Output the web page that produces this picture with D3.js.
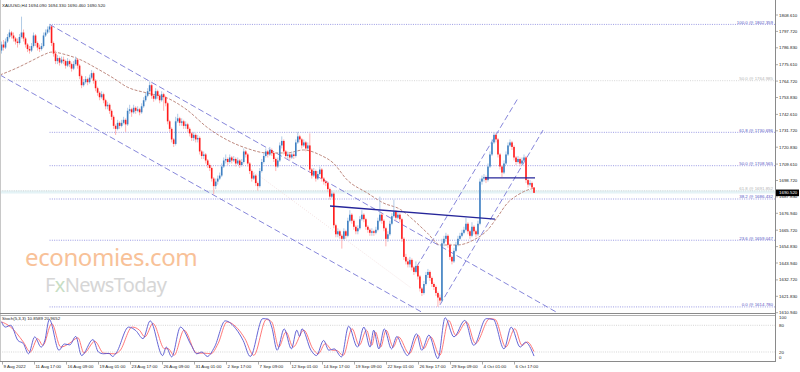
<!DOCTYPE html>
<html>
<head>
<meta charset="utf-8">
<script src="https://cdnjs.cloudflare.com/ajax/libs/d3/7.8.5/d3.min.js"></script>
<style>
body { margin: 0; background: #fff; }
svg { display: block; font-family: "Liberation Sans", Arial, sans-serif; }
</style>
</head>
<body>
<svg width="800" height="372"></svg>
<script>
// XAUUSD H4 candles, 9 Aug 2022 01:00 onwards (open of a bar = close of the previous one)
var firstOpen = 1785;
var closes = [1789,1787,1791,1794,1797,1795,1793,1791,1790,1794,1797,1793,1789,1786,1785,1788,1795,1790,1787,1786,
  1788,1795,1797,1799,1801,1790,1783,1778,1780,1777,1779,1778,1775,1778,1776,1773,1776,1779,1775,1768,
  1762,1764,1766,1764,1767,1770,1765,1760,1757,1754,1756,1752,1748,1749,1745,1741,1735,1733,1737,1735,
  1737,1739,1736,1745,1746,1744,1747,1745,1746,1744,1748,1752,1755,1758,1762,1755,1753,1758,1755,1752,
  1756,1754,1750,1738,1733,1726,1723,1738,1740,1737,1738,1735,1736,1733,1730,1727,1729,1726,1727,1718,
  1715,1716,1712,1709,1707,1700,1695,1698,1700,1702,1708,1712,1713,1711,1714,1712,1713,1710,1712,1709,
  1711,1718,1716,1710,1705,1700,1702,1697,1695,1705,1711,1715,1718,1716,1719,1717,1713,1708,1712,1722,
  1725,1718,1715,1716,1714,1716,1715,1724,1728,1726,1722,1724,1720,1722,1706,1702,1705,1700,1703,1706,
  1700,1698,1697,1693,1688,1690,1669,1663,1665,1662,1660,1665,1662,1672,1676,1672,1668,1665,1667,1673,
  1676,1673,1668,1666,1664,1665,1664,1666,1672,1676,1672,1667,1660,1663,1670,1675,1678,1674,1676,1673,
  1660,1648,1645,1643,1646,1641,1638,1642,1635,1627,1624,1630,1636,1638,1634,1630,1628,1624,1621,1619,
  1657,1660,1662,1656,1648,1645,1652,1656,1660,1662,1664,1666,1670,1665,1662,1668,1665,1663,1670,1698,
  1700,1701,1699,1708,1716,1724,1729,1726,1716,1708,1704,1710,1716,1722,1724,1721,1714,1711,1713,1710,
  1712,1714,1699,1696,1697,1694.09,1690.52];
var highs = [1791,1792,1793,1796,1799,1798,1797,1794,1793,1796,1807.5,1799,1794,1790,1788,1790,1797,1796,1791,1789,
  1790,1797,1799,1801,1802.36,1801.5,1791,1785,1782,1781,1781,1781,1779,1780,1779,1777,1778,1781,1780,1776,
  1769,1766,1768,1767,1769,1772,1771,1766,1761,1758,1758,1757,1753,1751,1750,1746,1742,1736,1739,1738,
  1739,1741,1740,1747,1749,1747,1749,1748,1748,1747,1750,1754,1757,1760,1764.5,1763,1756,1760,1759,1756,
  1758,1757,1755,1751,1739,1734,1727,1741,1743,1741,1740,1739,1738,1737,1734,1731,1731,1730,1729,1728,
  1719,1718,1717,1713,1710,1708,1701,1700,1702,1704,1710,1714,1716,1714,1716,1715,1715,1714,1714,1713,
  1713,1720,1719,1717,1711,1706,1704,1703,1698,1707,1713,1717,1720,1719,1721,1720,1718,1714,1714,1724,
  1728,1726,1719,1718,1717,1718,1717,1726,1731,1729,1727,1726,1725,1724,1730,1707,1707,1706,1705,1708,
  1707,1701,1699,1698,1694,1692,1691,1670,1667,1666,1663,1667,1666,1674,1679,1677,1673,1669,1669,1675,
  1679,1677,1674,1669,1667,1667,1666,1668,1674,1688,1677,1673,1668,1665,1672,1677,1686,1679,1678,1677,
  1674,1661,1650,1647,1648,1647,1642,1645,1643,1636,1628,1632,1638,1640,1639,1635,1631,1629,1625,1623,
  1660,1662,1664,1663,1657,1649,1654,1658,1662,1664,1666,1668,1674,1671,1666,1671,1669,1666,1672,1700,
  1702,1703,1702,1710,1718,1726,1730.5,1730,1727,1717,1709,1712,1718,1724,1726,1725,1722,1715,1715,1714,
  1714,1716,1715,1700,1699,1698,1694.33];
var lows = [1783,1785,1786,1790,1793,1793,1791,1789,1787,1789,1793,1791,1787,1784,1783,1784,1787,1788,1785,1784,
  1785,1787,1794,1796,1797,1788,1781,1776,1776,1775,1776,1776,1773,1774,1774,1771,1772,1775,1773,1766,
  1760,1761,1763,1762,1763,1766,1763,1758,1755,1752,1753,1750,1746,1746,1743,1739,1733,1729,1732,1733,
  1734,1736,1731,1735,1743,1741,1743,1743,1744,1742,1743,1747,1751,1754,1757,1753,1751,1752,1753,1750,
  1751,1745,1748,1736,1731,1724,1721,1722,1737,1735,1735,1733,1733,1731,1728,1725,1725,1724,1724,1716,
  1713,1713,1710,1707,1705,1698,1689.5,1693,1696,1699,1701,1707,1710,1709,1710,1710,1711,1708,1709,1707,
  1708,1710,1714,1708,1703,1698,1699,1695,1692,1694,1704,1710,1714,1714,1715,1715,1711,1705,1707,1711,
  1720,1716,1713,1713,1712,1713,1713,1714,1723,1724,1720,1721,1718,1719,1704,1700,1701,1698,1699,1702,
  1698,1696,1695,1691,1686,1687,1667,1661,1661,1660,1653.5,1659,1660,1661,1671,1670,1666,1663,1663,1666,
  1672,1671,1666,1664,1662,1662,1662,1663,1665,1671,1670,1665,1655,1658,1662,1669,1674,1672,1673,1671,
  1658,1646,1643,1641,1641,1639,1636,1637,1633,1625,1622,1623,1629,1634,1632,1628,1626,1622,1614.78,1617,
  1618,1655,1658,1654,1646,1643,1644,1651,1655,1659,1661,1663,1665,1663,1660,1661,1663,1661,1662,1669,
  1696,1698,1697,1698,1707,1715,1723,1724,1714,1706,1701,1703,1709,1715,1721,1719,1712,1709,1710,1708,
  1709,1711,1697,1694,1695,1693,1690.46];

// time axis labels, one every 16 bars
var timeLabels = ["9 Aug 2022","11 Aug 17:00","16 Aug 09:00","19 Aug 01:00","23 Aug 17:00","26 Aug 09:00",
  "31 Aug 01:00","2 Sep 17:00","7 Sep 09:00","12 Sep 01:00","14 Sep 17:00","19 Sep 09:00","22 Sep 01:00",
  "26 Sep 17:00","29 Sep 09:00","4 Oct 01:00","6 Oct 17:00"];
var priceTicks = [1808.61,1797.72,1786.83,1775.61,1764.72,1753.83,1742.61,1731.72,1720.83,1709.61,1698.72,
  1687.83,1676.94,1665.72,1654.83,1643.94,1632.72,1621.83,1610.94];

// fibonacci retracement (blue) and the older one (grey)
var fibLevels = [100.0, 61.8, 50.0, 38.2, 23.6, 0.0];
var fibPrices = [1802.359, 1730.696, 1708.565, 1686.432, 1659.047, 1614.780];
var greyFibLevels = [50.0, 61.8];
var greyFibPrices = [1764.985, 1691.852];

// moving average (bar index, price)
var maIdx = [-0.75,7.6,15.75,20.75,25.25,32.75,39.25,47.75,55.75,62.75,72.75,82.75,92.75,102.75,112.75,122.75,
  132.75,142.75,150.75,159.25,165.75,172.75,182.75,190.75,199.25,205.75,212.75,219.25,227.75,235.75,242.75,
  247.75,252.75,257.75,262.75,265.75];
var maVal = [1768.8,1773.4,1778.7,1782,1784,1782,1779,1773,1766.8,1760.8,1756.8,1753.5,1745.5,1734,1725.6,1720,
  1717,1717,1719,1715.6,1710.3,1699,1690.4,1683.8,1679.5,1672.5,1663.8,1655.9,1655.9,1659.2,1665.8,
  1674.5,1683.8,1689,1692.4,1693.5];

// drawn lines: [startIndex, startPrice, endIndex, endPrice]
var dashedLines = [
  [24, 1802.36, 278, 1610.7],
  [-0.75, 1768.8, 210.75, 1610.7],
  [207.4, 1641.5, 257.7, 1752.7],
  [219, 1616.1, 270.5, 1732.2]
];
var faintLines = [
  [124, 1706.5, 204.5, 1627.5]
];
var solidLines = [
  [164.1, 1681.8, 246.5, 1673.1],
  [241.5, 1700.4, 266.5, 1700.4]
];

// Stochastic(5,3,3) turning points
var kIdx = [0,1.9,4.6,8.2,10.9,13.5,16.6,19.8,21.6,23.9,28.7,31.4,34.1,37.1,40,45.7,48.4,51,53.7,55.5,57.3,
  63.5,67.1,70.7,74.25,80.5,82.3,85,89.4,94.8,97.5,100.1,102.8,106.4,111.75,117.1,120.7,124.25,130.5,133.2,
  135,137.7,141.2,144.8,147.5,148.9,150.1,154.6,157.3,160.9,163.5,166.2,169.8,173.4,177.8,181,184.1,185.9,
  188.5,191.2,194.8,197.5,200.1,202.8,207.3,209.9,213.5,218,221.6,226,231.4,235.9,242.1,245.7,251,254.6,
  259.1,261.75,266];
var kVal = [88,76,80,46,39,16,54,31,45,93,24,38,36,55,12,48,20,16,17,10,18,
  76,68,50,90,12,31,9,76,35,16,20,10,31,90,72,46,10,95,94,
  76,24,72,27,69,55,72,24,12,46,24,27,9,78,31,76,31,69,
  27,72,27,55,31,12,61,24,58,5,97,54,91,35,95,93,27,76,
  31,42,10.8589];
var dIdx = [0,1.9,4.6,10.9,14.4,18,20.7,25.1,29.6,34.1,38.2,41.2,46.6,51,56.4,59,65.3,68.9,71.6,75.7,81.4,
  83.2,86.2,91.2,97.5,101,104.6,108.2,112.6,118,121.6,126,132.3,135,138.5,142.1,145.7,151,155.5,158.2,
  161.75,165.3,167.1,170.7,175.1,178.7,182.3,185,186.75,189.4,192.1,195.7,198.3,203.7,208.2,210.9,214.4,
  218.9,223.4,226.9,232.3,236.75,243.9,246.6,251.9,256.4,260,262.6,266];
var dVal = [87.5,84,76,42.5,20,50,35,84,31,40,52,17.5,44,17.5,16,22,76,69,54,84,27.5,
  27.5,12.5,69,17.5,17.5,16,39,87.5,72.5,50,12.5,93,87.5,31,65,31,69,27.5,16,
  39,24,24,12.5,72.5,35,69,35,65,31,69,31,54,16,57.5,27.5,54,
  12.5,91,57.5,87.5,39,95,93,31,72.5,35,42.5,20.9652];

var svg = d3.select("svg");

// scales
var x = d3.scaleLinear().domain([0, 256]).range([1.5, 514]);
var y = d3.scaleLinear().domain([1610.94, 1808.61]).range([312.7, 15]);
var ys = d3.scaleLinear().domain([0, 100]).range([360.9, 316.4]);
var right = 775;

svg.append("clipPath").attr("id", "main").append("rect")
  .attr("x", 0).attr("y", 0).attr("width", right).attr("height", 313);
svg.append("clipPath").attr("id", "sub").append("rect")
  .attr("x", 0).attr("y", 316).attr("width", right).attr("height", 45);

const g = svg.append("g").attr("clip-path", "url(#main)");

// bid line band
g.append("rect").attr("x", 0).attr("width", right)
  .attr("y", y(1690.52) - 2.3).attr("height", 3)
  .attr("fill", "#e4f3f6");

// grey fib
greyFibPrices.forEach(function(p, i) {
  g.append("line").attr("x1", 0).attr("x2", right)
    .attr("y1", y(p)).attr("y2", y(p))
    .attr("stroke", "#c4c4c4").attr("stroke-width", 0.7).attr("stroke-dasharray", "1,1.3");
  g.append("text").attr("x", right - 2).attr("y", y(p) - 0.6)
    .attr("text-anchor", "end").attr("font-size", 4.4).attr("fill", "#b4b4b4")
    .text(greyFibLevels[i].toFixed(1) + " @ " + p.toFixed(3));
});

// blue fib
fibPrices.forEach(function(p, i) {
  g.append("line").attr("x1", x(24)).attr("x2", right)
    .attr("y1", y(p)).attr("y2", y(p))
    .attr("stroke", "#7070d8").attr("stroke-width", 0.7).attr("stroke-dasharray", "1,1.3");
  g.append("text").attr("x", right - 2).attr("y", y(p) - 0.6)
    .attr("text-anchor", "end").attr("font-size", 4.4).attr("fill", "#5757c4")
    .text(fibLevels[i].toFixed(1) + " @ " + p.toFixed(3));
});

// watermark
var wm = svg.append("g").attr("opacity", 0.75);
wm.append("text").attr("x", 25).attr("y", 266)
  .attr("font-family", "'Noto Sans', sans-serif").attr("font-size", 24)
  .attr("fill", "#f6ad76").attr("letter-spacing", -0.4).text("economies.com");
wm.append("text").attr("x", 45).attr("y", 292)
  .attr("font-family", "'Noto Sans', sans-serif").attr("font-size", 20)
  .attr("fill", "#c9c9c9").attr("letter-spacing", -0.6)
  .html('F<tspan fill="#b5d4b0">x</tspan>NewsToday');

// faint helper line
faintLines.forEach(function(l) {
  g.append("line").attr("x1", x(l[0])).attr("y1", y(l[1])).attr("x2", x(l[2])).attr("y2", y(l[3]))
    .attr("stroke", "#efd6d6").attr("stroke-width", 0.7).attr("stroke-dasharray", "1,1.5");
});

// trend lines
dashedLines.forEach(function(l) {
  g.append("line").attr("x1", x(l[0])).attr("y1", y(l[1])).attr("x2", x(l[2])).attr("y2", y(l[3]))
    .attr("stroke", "#7878d6").attr("stroke-width", 0.9).attr("stroke-dasharray", "6,3");
});

// moving average
g.append("path")
  .datum(maIdx.map(function(d, i) { return [d, maVal[i]]; }))
  .attr("fill", "none").attr("stroke", "#b77d72").attr("stroke-width", 0.9)
  .attr("stroke-dasharray", "3,1.5")
  .attr("d", d3.line().x(function(d) { return x(d[0]); }).y(function(d) { return y(d[1]); })
    .curve(d3.curveMonotoneX));

// candles
var bars = closes.map(function(c, i) {
  return { i: i, o: i ? closes[i - 1] : firstOpen, h: highs[i], l: lows[i], c: c };
});
var candle = g.selectAll("g.candle").data(bars).enter().append("g").attr("class", "candle");
candle.append("line")
  .attr("x1", function(d) { return x(d.i); }).attr("x2", function(d) { return x(d.i); })
  .attr("y1", function(d) { return y(d.h); }).attr("y2", function(d) { return y(d.l); })
  .attr("stroke", function(d) { return d.c >= d.o ? "#a9c5e3" : "#ffaaaa"; })
  .attr("stroke-width", 0.9);
candle.append("rect")
  .attr("x", function(d) { return x(d.i) - 0.8; }).attr("width", 1.6)
  .attr("y", function(d) { return y(Math.max(d.o, d.c)); })
  .attr("height", function(d) { return Math.max(0.7, Math.abs(y(d.o) - y(d.c))); })
  .attr("fill", function(d) { return d.c >= d.o ? "#3f80c2" : "#ff1c1c"; });

// solid lines
solidLines.forEach(function(l) {
  g.append("line").attr("x1", x(l[0])).attr("y1", y(l[1])).attr("x2", x(l[2])).attr("y2", y(l[3]))
    .attr("stroke", "#26269a").attr("stroke-width", 1.3);
});

// header
svg.append("text").attr("x", 2).attr("y", 7).attr("font-size", 4.4).attr("fill", "#222")
  .text("XAUUSD,H4  1694.090 1694.330 1690.460 1690.520");

// stochastic panel
const s = svg.append("g").attr("clip-path", "url(#sub)");
[80, 20].forEach(function(v) {
  s.append("line").attr("x1", 0).attr("x2", right).attr("y1", ys(v)).attr("y2", ys(v))
    .attr("stroke", "#c4c4c4").attr("stroke-width", 0.7).attr("stroke-dasharray", "1,1.2");
});
var sline = d3.line().x(function(d) { return x(d[0]); }).y(function(d) { return ys(d[1]); })
  .curve(d3.curveMonotoneX);
s.append("path").datum(dIdx.map(function(d, i) { return [d, dVal[i]]; }))
  .attr("fill", "none").attr("stroke", "#ff6a6a").attr("stroke-width", 0.9).attr("d", sline);
s.append("path").datum(kIdx.map(function(d, i) { return [d, kVal[i]]; }))
  .attr("fill", "none").attr("stroke", "#5555d0").attr("stroke-width", 0.9).attr("d", sline);
svg.append("text").attr("x", 2).attr("y", 320).attr("font-size", 4.4).attr("fill", "#222")
  .text("Stoch(5,3,3) 10.8589 20.9652");

// frames
var frame = "#8a8a8a";
svg.append("line").attr("x1", 0.5).attr("x2", 0.5).attr("y1", 0).attr("y2", 361).attr("stroke", "#c8c8c8").attr("stroke-width", 1);
svg.append("line").attr("x1", right + 0.5).attr("x2", right + 0.5).attr("y1", 0).attr("y2", 361.5).attr("stroke", frame);
svg.append("line").attr("x1", 0).attr("x2", right).attr("y1", 313.5).attr("y2", 313.5).attr("stroke", frame);
svg.append("line").attr("x1", 0).attr("x2", right).attr("y1", 315.5).attr("y2", 315.5).attr("stroke", "#b0b0b0");
svg.append("line").attr("x1", 0).attr("x2", right + 1).attr("y1", 361.5).attr("y2", 361.5).attr("stroke", frame);

// price axis
priceTicks.forEach(function(p) {
  svg.append("line").attr("x1", right).attr("x2", right + 3).attr("y1", y(p)).attr("y2", y(p))
    .attr("stroke", frame).attr("stroke-width", 0.7);
  svg.append("text").attr("x", right + 4).attr("y", y(p) + 1.5).attr("font-size", 4.4).attr("fill", "#222")
    .text(p.toFixed(3));
});
svg.append("rect").attr("x", right + 1).attr("y", y(1690.52) - 3.3).attr("width", 23).attr("height", 6.6)
  .attr("fill", "#000");
svg.append("text").attr("x", right + 4).attr("y", y(1690.52) + 1.5).attr("font-size", 4.4).attr("fill", "#fff")
  .text("1690.520");

// stochastic axis
[[100, 317.7], [80, ys(80)], [20, ys(20)], [0, 357.7]].forEach(function(d) {
  svg.append("text").attr("x", right + 4).attr("y", d[1] + 1.5).attr("font-size", 4.4).attr("fill", "#222")
    .text(d[0]);
});

// time axis
timeLabels.forEach(function(t, k) {
  var tx = Math.round(x(k * 16)) + 0.5;
  svg.append("line").attr("x1", tx).attr("x2", tx).attr("y1", 361.5).attr("y2", 364.5)
    .attr("stroke", frame).attr("stroke-width", 0.7);
  svg.append("text").attr("x", tx + 1).attr("y", 368).attr("font-size", 4.4).attr("fill", "#222").text(t);
});
</script>
</body>
</html>
